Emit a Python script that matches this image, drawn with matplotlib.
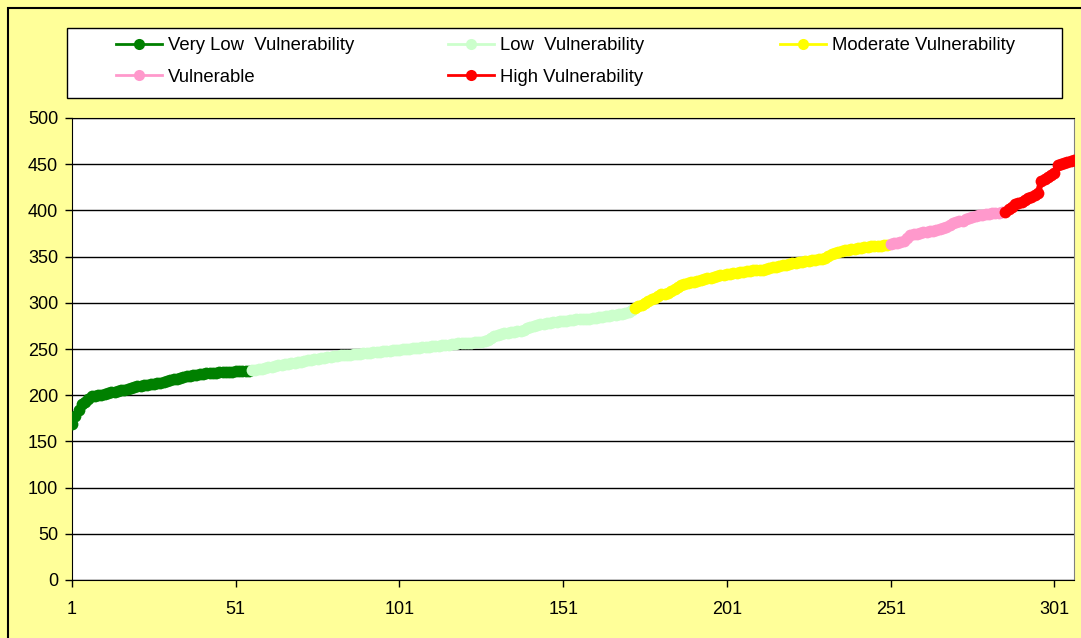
import matplotlib.pyplot as plt
from matplotlib.patches import Rectangle

plt.rcParams["font.family"] = ["Liberation Sans", "DejaVu Sans"]

# Sorted scores, one list per vulnerability class.
veryLow = [169, 178, 184, 190, 193, 196, 199, 199, 200, 200,
           201, 202, 203, 204, 205, 206, 206, 207, 208, 209,
           210, 210, 211, 211, 212, 212, 213, 213, 214, 215,
           216, 217, 218, 219, 220, 221, 221, 222, 222, 223,
           223, 224, 224, 224, 224, 225, 225, 225, 225, 225,
           226, 226, 226, 226, 226]
low = [227, 227, 228, 228, 229, 230, 231, 232, 233, 233,
       234, 234, 235, 235, 236, 236, 237, 238, 238, 239,
       239, 240, 240, 241, 241, 242, 242, 243, 243, 244,
       244, 245, 245, 245, 246, 246, 246, 247, 247, 247,
       248, 248, 248, 249, 249, 249, 250, 250, 250, 251,
       251, 251, 252, 252, 252, 253, 253, 253, 254, 254,
       254, 255, 255, 256, 256, 256, 257, 257, 258, 258,
       258, 259, 260, 262, 264, 265, 266, 267, 267, 268,
       268, 269, 270, 271, 273, 274, 275, 276, 277, 277,
       278, 278, 279, 279, 280, 280, 280, 281, 281, 282,
       282, 282, 283, 283, 284, 284, 285, 285, 286, 286,
       287, 287, 288, 288, 289, 290, 292]
moderate = [294, 296, 298, 300, 302, 304, 305, 307, 309, 310,
            311, 313, 315, 317, 319, 320, 321, 322, 323, 324,
            325, 326, 327, 327, 328, 329, 330, 330, 331, 331,
            332, 332, 333, 333, 334, 334, 335, 335, 336, 336,
            337, 338, 339, 339, 340, 341, 341, 342, 343, 343,
            344, 344, 345, 345, 346, 346, 347, 347, 348, 351,
            353, 354, 355, 356, 357, 357, 358, 358, 359, 359,
            360, 360, 361, 361, 362, 362, 363, 363]
vulnerable = [364, 365, 365, 366, 367, 370, 373, 375, 375, 376,
              377, 377, 378, 378, 379, 380, 381, 382, 384, 386,
              387, 388, 389, 391, 392, 393, 394, 395, 395, 396,
              396, 397, 397, 397, 398]
high = [398, 401, 404, 407, 408, 409, 411, 413, 415, 417,
        419, 432, 434, 436, 438, 440, 449, 450, 451, 452,
        453, 455]

seriesData   = [veryLow, low, moderate, vulnerable, high]
seriesNames  = ["Very Low  Vulnerability", "Low  Vulnerability", "Moderate Vulnerability",
                "Vulnerable", "High Vulnerability"]
seriesColors = ["#008000", "#CCFFCC", "#FFFF00", "#FF99CC", "#FF0000"]
xTicks = [1, 51, 101, 151, 201, 251, 301]
yTicks = [0, 50, 100, 150, 200, 250, 300, 350, 400, 450, 500]

W, H = 1081, 638
figure = plt.figure(figsize=(W / 100, H / 100), dpi=100, facecolor="#FFFF99")

# Outer chart border (runs off the right and bottom of the picture).
figure.patches.append(Rectangle((8 / W, -0.1), 1.2, 1.1 - 8 / H, transform=figure.transFigure,
                                fill=False, edgecolor="black", linewidth=1.5))

axes = figure.add_axes([72 / W, 1 - 580 / H, (1074 - 72) / W, (580 - 118) / H])

handles = []
start = 1
for values, name, color in zip(seriesData, seriesNames, seriesColors):
    x = list(range(start, start + len(values)))
    line, = axes.plot(x, values, color=color, linewidth=4.5, marker="o", markersize=8.5,
                      markeredgewidth=0, label=name, zorder=3)
    handles.append(line)
    start += len(values)

axes.set_xlim(1, start - 1)
axes.set_ylim(0, 500)
axes.set_xticks(xTicks)
axes.set_yticks(yTicks)
axes.yaxis.grid(True, color="black", linewidth=1)
axes.set_axisbelow(True)
for side in ["left", "bottom", "top"]:
    axes.spines[side].set_color("black")
axes.spines["right"].set_color("#808080")
axes.tick_params(axis="both", direction="out", length=5, width=1, labelsize=13, colors="black")
axes.tick_params(axis="x", pad=10)
axes.tick_params(axis="y", pad=5)

# Legend box with three fixed-width columns, filled row by row like the original.
figure.patches.append(Rectangle((67 / W, 1 - 98 / H), (1062 - 67) / W, 70 / H,
                                transform=figure.transFigure, facecolor="white",
                                edgecolor="black", linewidth=1, zorder=1))
columns = [[handles[0], handles[3]], [handles[1], handles[4]], [handles[2]]]
for columnX, columnHandles in zip([116, 448, 780], columns):
    legend = figure.legend(handles=columnHandles, loc="upper left",
                           bbox_to_anchor=(columnX / W, 1 - 37 / H), frameon=False,
                           fontsize=13.3, handlelength=2.5, handletextpad=0.3,
                           labelspacing=0.8, borderpad=0, borderaxespad=0)
    for legendLine in legend.get_lines():
        legendLine.set_linewidth(2)
        legendLine.set_markersize(8)
    legend.set_zorder(2)

figure.savefig("out.png", dpi=100, facecolor=figure.get_facecolor())
